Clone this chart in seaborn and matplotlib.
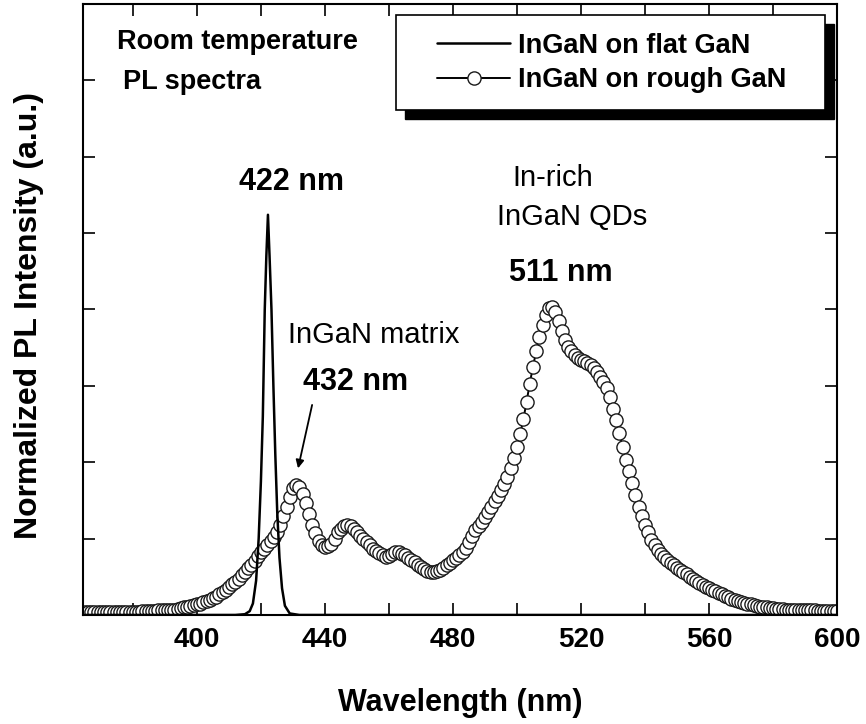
import numpy as np
import pandas as pd
import matplotlib
matplotlib.use("Agg")
import matplotlib.pyplot as plt
import seaborn as sns
from matplotlib.patches import Rectangle
from matplotlib.ticker import FixedLocator

# ---------------- data ----------------
wavelength_rough = np.arange(365, 601)  # nm, 1 nm sampling
intensity_rough = [
    0.04, 0.04, 0.04, 0.04, 0.04, 0.04, 0.04, 0.04, 0.04, 0.04,
    0.04, 0.04, 0.04, 0.04, 0.04, 0.04, 0.04, 0.04, 0.05, 0.05,
    0.05, 0.05, 0.05, 0.06, 0.06, 0.06, 0.06, 0.07, 0.07, 0.08,
    0.09, 0.10, 0.11, 0.12, 0.13, 0.14, 0.15, 0.17, 0.18, 0.20,
    0.22, 0.24, 0.27, 0.30, 0.33, 0.36, 0.40, 0.43, 0.47, 0.52,
    0.56, 0.61, 0.66, 0.71, 0.77, 0.82, 0.87, 0.92, 0.97, 1.02,
    1.09, 1.18, 1.29, 1.42, 1.55, 1.66, 1.70, 1.67, 1.58, 1.47,
    1.32, 1.18, 1.07, 0.97, 0.92, 0.89, 0.90, 0.93, 1.00, 1.08,
    1.13, 1.17, 1.18, 1.16, 1.12, 1.08, 1.04, 0.99, 0.95, 0.91,
    0.87, 0.84, 0.81, 0.78, 0.76, 0.77, 0.80, 0.82, 0.82, 0.80,
    0.78, 0.75, 0.72, 0.69, 0.66, 0.63, 0.60, 0.58, 0.56, 0.56,
    0.57, 0.59, 0.62, 0.65, 0.68, 0.72, 0.75, 0.78, 0.83, 0.88,
    0.96, 1.04, 1.11, 1.17, 1.22, 1.28, 1.35, 1.42, 1.49, 1.56,
    1.64, 1.72, 1.81, 1.92, 2.05, 2.20, 2.37, 2.56, 2.79, 3.03,
    3.25, 3.45, 3.64, 3.80, 3.93, 4.02, 4.03, 3.97, 3.85, 3.72,
    3.60, 3.51, 3.45, 3.40, 3.37, 3.34, 3.32, 3.30, 3.27, 3.24,
    3.18, 3.12, 3.05, 2.97, 2.85, 2.70, 2.55, 2.38, 2.20, 2.03,
    1.88, 1.73, 1.57, 1.42, 1.29, 1.18, 1.08, 0.98, 0.91, 0.85,
    0.80, 0.76, 0.72, 0.68, 0.65, 0.62, 0.59, 0.56, 0.53, 0.50,
    0.47, 0.45, 0.42, 0.39, 0.37, 0.35, 0.33, 0.31, 0.29, 0.27,
    0.25, 0.23, 0.21, 0.20, 0.18, 0.17, 0.16, 0.15, 0.14, 0.13,
    0.12, 0.11, 0.10, 0.10, 0.09, 0.09, 0.08, 0.08, 0.08, 0.07,
    0.07, 0.07, 0.07, 0.06, 0.06, 0.06, 0.06, 0.06, 0.06, 0.05,
    0.05, 0.05, 0.05, 0.05, 0.05, 0.05,
]

wavelength_flat = [365, 412, 415, 416.5, 417.5, 418.5, 419.3, 420, 420.6, 421.2,
                   421.7, 422.2, 422.7, 423.3, 423.9, 424.5, 425.1, 425.8, 426.6,
                   427.5, 429, 432, 600]
intensity_flat = [0, 0, 0.01, 0.05, 0.15, 0.45, 1.0, 1.75, 2.6, 4.0,
                  4.7, 5.24, 4.7, 4.0, 3.0, 2.1, 1.35, 0.75, 0.35,
                  0.12, 0.02, 0, 0]

series_labels = ["InGaN on flat GaN", "InGaN on rough GaN"]
x_major_ticks = [400, 440, 480, 520, 560, 600]
x_minor_ticks = [380, 420, 460, 500, 540, 580]
y_ticks = [0, 1, 2, 3, 4, 5, 6, 7, 8]

# ---------------- style ----------------
sns.set_style("ticks")
plt.rcParams['font.family'] = ['Liberation Sans', 'DejaVu Sans']
plt.rcParams['text.color'] = 'black'
plt.rcParams['axes.labelcolor'] = 'black'
plt.rcParams['xtick.color'] = 'black'
plt.rcParams['ytick.color'] = 'black'

fig = plt.figure(figsize=(8.66, 7.24), dpi=100)
ax = fig.add_axes([0.0958, 0.1506, 0.8707, 0.8439])

df_rough = pd.DataFrame({"wl": wavelength_rough, "I": intensity_rough})
df_flat = pd.DataFrame({"wl": wavelength_flat, "I": intensity_flat})

sns.lineplot(data=df_rough, x="wl", y="I", ax=ax, color="black", linewidth=1.4,
             marker="o", markersize=9.5, markerfacecolor="white",
             markeredgecolor="#1a1a1a", markeredgewidth=1.0,
             label=series_labels[1], zorder=2)
sns.lineplot(data=df_flat, x="wl", y="I", ax=ax, color="black", linewidth=1.8,
             label=series_labels[0], zorder=3)

ax.set_xlim(364.4, 600)
ax.set_ylim(0, 8)

ax.xaxis.set_major_locator(FixedLocator(x_major_ticks))
ax.xaxis.set_minor_locator(FixedLocator(x_minor_ticks))
ax.set_yticks(y_ticks)
ax.set_yticklabels([])
ax.tick_params(which="both", direction="in", top=True, right=True,
               length=8.5, width=1.2, color="black")
ax.tick_params(axis="x", which="major", labelsize=20, pad=9, labelcolor="black")
for lab in ax.get_xticklabels():
    lab.set_fontweight("bold")
for sp in ax.spines.values():
    sp.set_linewidth(1.5)
    sp.set_color("black")

ax.set_xlabel("Wavelength (nm)", fontsize=22, fontweight="bold", color="black")
ax.set_ylabel("Normalized PL Intensity (a.u.)", fontsize=23, fontweight="bold",
              color="black")
ax.xaxis.set_label_coords(0.5, -0.12)
ax.yaxis.set_label_coords(-0.052, 0.49)

# ---------------- legend with shadowed box ----------------
bx0, bx1, by0, by1 = 0.4151, 0.9841, 0.8265, 0.982
ax.add_patch(Rectangle((bx0 + 0.0119, by0 - 0.0147), bx1 - bx0, by1 - by0,
                       transform=ax.transAxes, facecolor="black", edgecolor="black",
                       zorder=5, clip_on=False))
ax.add_patch(Rectangle((bx0, by0), bx1 - bx0, by1 - by0,
                       transform=ax.transAxes, facecolor="white", edgecolor="black",
                       linewidth=1.2, zorder=6, clip_on=False))
handles, labels = ax.get_legend_handles_labels()
hmap = dict(zip(labels, handles))
leg = ax.legend([hmap[series_labels[0]], hmap[series_labels[1]]], series_labels,
                loc="upper left", bbox_to_anchor=(0.4695, 0.953), frameon=False,
                borderpad=0, borderaxespad=0, handlelength=2.7, handletextpad=0.3,
                labelspacing=0.32, numpoints=1,
                prop={"weight": "bold", "size": 19.5})
for t in leg.get_texts():
    t.set_color("black")
leg.set_zorder(7)

# ---------------- annotations ----------------
ax.text(375.0, 7.5, "Room temperature", fontsize=19.5, fontweight="bold",
        ha="left", va="center")
ax.text(376.9, 6.98, "PL spectra", fontsize=19.5, fontweight="bold",
        ha="left", va="center")
ax.text(429.7, 5.67, "422 nm", fontsize=22, fontweight="bold", ha="center", va="center")
ax.text(428.5, 3.66, "InGaN matrix", fontsize=21, ha="left", va="center")
ax.text(433.2, 3.05, "432 nm", fontsize=22, fontweight="bold", ha="left", va="center")
ax.text(511.3, 5.72, "In-rich", fontsize=21, ha="center", va="center")
ax.text(517.2, 5.21, "InGaN QDs", fontsize=21, ha="center", va="center")
ax.text(513.8, 4.48, "511 nm", fontsize=22, fontweight="bold", ha="center", va="center")
ax.annotate("", xy=(431.6, 1.92), xytext=(436.0, 2.75),
            arrowprops=dict(arrowstyle="-|>", color="black", lw=1.3,
                            mutation_scale=12, shrinkA=0, shrinkB=0))

fig.savefig("out.png", dpi=100, facecolor="white")
